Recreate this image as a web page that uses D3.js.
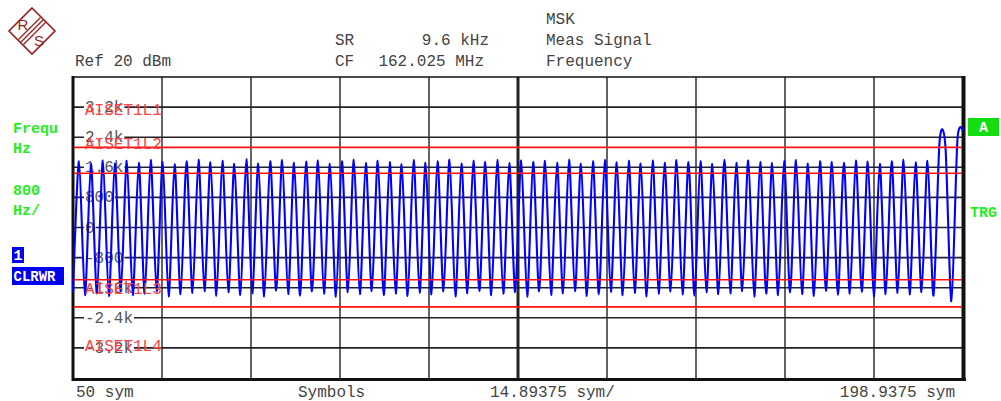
<!DOCTYPE html>
<head>
  <meta charset="UTF-8">
  <script src="https://d3js.org/d3.v7.min.js"></script>
  <style>
    body { margin: 0; background: #fff; }
    text { font-family: "Liberation Mono", "DejaVu Sans Mono", monospace; }
  </style>
</head>
<body>
  <script>
    // trace values in Hz, one extreme per symbol (50 .. 198), plus the last sample
    var symbols = d3.range(50, 199).concat([198.9375]);
    var freqValues = [
      -1720, 1760, -1800, 1690, -1750, 1780, -1820, 1700, -1690, 1770,
      -1800, 1720, -1760, 1790, -1700, 1740, -1830, 1680, -1770, 1760,
      -1740, 1800, -1690, 1730, -1810, 1770, -1720, 1690, -1790, 1810,
      -1750, 1700, -1830, 1760, -1680, 1790, -1770, 1720, -1810, 1750,
      -1700, 1780, -1760, 1690, -1840, 1760, -1720, 1800, -1770, 1710,
      -1690, 1770, -1800, 1740, -1760, 1680, -1820, 1790, -1730, 1720,
      -1780, 1760, -1700, 1800, -1830, 1700, -1750, 1770, -1690, 1740,
      -1800, 1790, -1760, 1710, -1720, 1780, -1840, 1740, -1700, 1770,
      -1790, 1720, -1750, 1800, -1690, 1690, -1820, 1760, -1770, 1790,
      -1710, 1730, -1800, 1770, -1740, 1700, -1830, 1780, -1760, 1720,
      -1700, 1790, -1780, 1740, -1810, 1760, -1720, 1690, -1770, 1800,
      -1750, 1720, -1690, 1780, -1840, 1740, -1760, 1710, -1800, 1770,
      -1730, 1790, -1770, 1700, -1820, 1760, -1690, 1740, -1790, 1720,
      -1760, 1780, -1710, 1750, -1830, 1690, -1770, 1760, -1740, 1800,
      -1780, 1730, -1720, 1770, -1810,
      2250, 2150, -1960, 2320,
      2560
    ];

    // limit lines (Hz)
    var limitValues = [2130, 1440, -1390, -2110];
    var limitNames = ["AISET1L1", "AISET1L2", "AISET1L3", "AISET1L4"];

    // axis
    var yTickValues = [3200, 2400, 1600, 800, 0, -800, -1600, -2400, -3200];
    var yTickLabels = ["3.2k", "2.4k", "1.6k", "800", "0", "-800", "-1.6k", "-2.4k", "-3.2k"];
    var xStart = 50, xStep = 14.89375, xDivs = 10;
    var bottomLabels = ["50 sym", "Symbols", "14.89375 sym/", "198.9375 sym"];

    var width = 1001, height = 401;
    var plotLeft = 73, plotRight = 963, plotTop = 77, plotBottom = 378;

    var svg = d3.select("body").append("svg")
      .attr("width", width)
      .attr("height", height);

    svg.append("rect").attr("width", width).attr("height", height).attr("fill", "#fff");

    var x = d3.scaleLinear()
      .domain([xStart, xStart + xStep * xDivs])
      .range([plotLeft, plotRight]);
    var y = d3.scaleLinear()
      .domain([-4000, 4000])
      .range([plotBottom, plotTop]);

    // R&S logo
    var logo = svg.append("g").attr("transform", "translate(32,31)");
    logo.append("path")
      .attr("d", "M0,-23 L23,0 L0,23 L-23,0 Z")
      .attr("fill", "none")
      .attr("stroke", "#9c1c1c")
      .attr("stroke-width", 1.6);
    [-2.5, 0, 2.5].forEach(function(o) {
      logo.append("line")
        .attr("x1", 11 + o).attr("y1", -11 + o)
        .attr("x2", -11 + o).attr("y2", 11 + o)
        .attr("stroke", "#9c1c1c").attr("stroke-width", 1.2);
    });
    logo.append("text").attr("x", -9).attr("y", -1).attr("text-anchor", "middle")
      .attr("font-size", 15).attr("fill", "#9c1c1c")
      .style("font-family", "'Liberation Sans', sans-serif").text("R");
    logo.append("text").attr("x", 7).attr("y", 15).attr("text-anchor", "middle")
      .attr("font-size", 15).attr("fill", "#9c1c1c")
      .style("font-family", "'Liberation Sans', sans-serif").text("S");

    // header
    var header = [
      { t: "Ref 20 dBm", x: 75, y: 66, a: "start" },
      { t: "SR", x: 335, y: 45, a: "start" },
      { t: "9.6 kHz", x: 489, y: 45, a: "end" },
      { t: "CF", x: 335, y: 66, a: "start" },
      { t: "162.025 MHz", x: 484, y: 66, a: "end" },
      { t: "MSK", x: 546, y: 24, a: "start" },
      { t: "Meas Signal", x: 546, y: 45, a: "start" },
      { t: "Frequency", x: 546, y: 66, a: "start" }
    ];
    svg.selectAll(".hdr").data(header).enter().append("text")
      .attr("class", "hdr")
      .attr("x", function(d) { return d.x; })
      .attr("y", function(d) { return d.y; })
      .attr("text-anchor", function(d) { return d.a; })
      .attr("font-size", 16)
      .attr("fill", "#444")
      .text(function(d) { return d.t; });

    // grid
    var grid = svg.append("g");
    grid.selectAll(".hg").data(yTickValues).enter().append("line")
      .attr("x1", plotLeft).attr("x2", plotRight)
      .attr("y1", function(d) { return y(d); })
      .attr("y2", function(d) { return y(d); })
      .attr("stroke", "#222").attr("stroke-width", 1.6);
    var xTicks = d3.range(1, xDivs).map(function(i) { return xStart + i * xStep; });
    grid.selectAll(".vg").data(xTicks).enter().append("line")
      .attr("y1", plotTop).attr("y2", plotBottom)
      .attr("x1", function(d) { return x(d); })
      .attr("x2", function(d) { return x(d); })
      .attr("stroke", "#222")
      .attr("stroke-width", function(d, i) { return i == 4 ? 3 : 1.4; });

    // frame
    svg.append("line").attr("x1", plotLeft).attr("x2", plotRight).attr("y1", plotTop).attr("y2", plotTop)
      .attr("stroke", "#111").attr("stroke-width", 1.6);
    svg.append("line").attr("x1", plotLeft).attr("x2", plotLeft).attr("y1", plotTop - 1).attr("y2", plotBottom + 3)
      .attr("stroke", "#111").attr("stroke-width", 3);
    svg.append("line").attr("x1", plotLeft - 1).attr("x2", plotRight + 3)
      .attr("y1", plotBottom + 1.5).attr("y2", plotBottom + 1.5)
      .attr("stroke", "#111").attr("stroke-width", 3);
    svg.append("line").attr("x1", plotRight + 0.5).attr("x2", plotRight + 0.5)
      .attr("y1", plotTop - 1).attr("y2", plotBottom + 3)
      .attr("stroke", "#111").attr("stroke-width", 4);

    // y tick labels with a white gap behind them
    var tl = svg.append("g");
    tl.selectAll("rect").data(yTickLabels).enter().append("rect")
      .attr("x", 84)
      .attr("y", function(d, i) { return y(yTickValues[i]) - 2; })
      .attr("width", function(d) { return d.length * 9.6 + 2; })
      .attr("height", 4)
      .attr("fill", "#fff");
    tl.selectAll("text").data(yTickLabels).enter().append("text")
      .attr("x", 85)
      .attr("y", function(d, i) { return y(yTickValues[i]) + 5; })
      .attr("font-size", 16)
      .attr("fill", "#555")
      .text(function(d) { return d; });

    // trace
    var line = d3.line()
      .x(function(d) { return x(d[0]); })
      .y(function(d) { return y(d[1]); })
      .curve(d3.curveCardinal.tension(0.2));
    svg.append("path")
      .datum(symbols.map(function(s, i) { return [s, freqValues[i]]; }))
      .attr("d", line)
      .attr("fill", "none")
      .attr("stroke", "#0000ff")
      .attr("stroke-width", 2.1)
      .attr("stroke-linejoin", "round");

    // limit lines
    svg.selectAll(".lim").data(limitValues).enter().append("line")
      .attr("x1", plotLeft + 1).attr("x2", plotRight - 1)
      .attr("y1", function(d) { return y(d); })
      .attr("y2", function(d) { return y(d); })
      .attr("stroke", "#ff1010").attr("stroke-width", 1.6);
    var limLabelY = [115, 149, 294, 351];
    svg.selectAll(".limt").data(limitNames).enter().append("text")
      .attr("x", 85)
      .attr("y", function(d, i) { return limLabelY[i]; })
      .attr("font-size", 16)
      .attr("fill", "#ff4040")
      .text(function(d) { return d; });

    // bottom labels
    var bx = [76, 298, 490, 955];
    svg.selectAll(".bt").data(bottomLabels).enter().append("text")
      .attr("x", function(d, i) { return bx[i]; })
      .attr("y", 397)
      .attr("text-anchor", function(d, i) { return i == 3 ? "end" : "start"; })
      .attr("font-size", 16)
      .attr("fill", "#444")
      .text(function(d) { return d; });

    // side annotations
    var green = "#22ee22";
    var sideText = [
      { t: "Frequ", x: 13, y: 133 },
      { t: "Hz", x: 13, y: 153 },
      { t: "800", x: 13, y: 195 },
      { t: "Hz/", x: 13, y: 215 },
      { t: "TRG", x: 970, y: 217 }
    ];
    svg.selectAll(".side").data(sideText).enter().append("text")
      .attr("x", function(d) { return d.x; })
      .attr("y", function(d) { return d.y; })
      .attr("font-size", 15)
      .attr("font-weight", "bold")
      .attr("fill", green)
      .text(function(d) { return d.t; });

    svg.append("rect").attr("x", 12).attr("y", 247).attr("width", 12).attr("height", 16).attr("fill", "#0000ee");
    svg.append("text").attr("x", 13.5).attr("y", 260).attr("font-size", 15).attr("font-weight", "bold")
      .attr("fill", "#fff").text("1");
    svg.append("rect").attr("x", 12).attr("y", 267).attr("width", 52).attr("height", 18).attr("fill", "#0000ee");
    svg.append("text").attr("x", 13.5).attr("y", 281).attr("font-size", 14).attr("font-weight", "bold")
      .attr("fill", "#fff").text("CLRWR");

    svg.append("rect").attr("x", 968).attr("y", 118).attr("width", 31).attr("height", 18).attr("fill", "#11dd11");
    svg.append("text").attr("x", 983.5).attr("y", 132).attr("text-anchor", "middle").attr("font-size", 15)
      .attr("font-weight", "bold").attr("fill", "#fff").text("A");
  </script>
</body>
</html>
